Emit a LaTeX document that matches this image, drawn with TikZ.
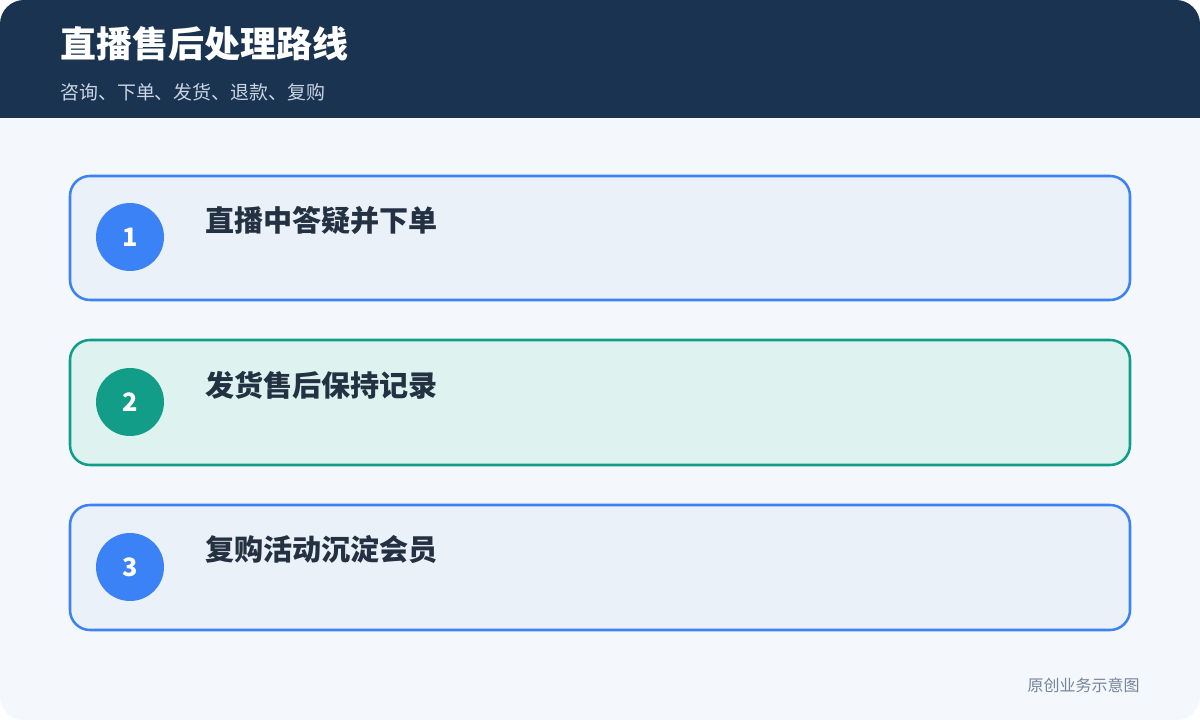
\documentclass[tikz,border=0pt]{standalone}
\usepackage{fontspec}
\setmainfont{Noto Sans CJK SC}
\newfontfamily\cjk{Noto Sans CJK SC}
\definecolor{navy}{HTML}{1A3350}
\definecolor{pagebg}{HTML}{F4F8FC}
\definecolor{blueln}{HTML}{3B82F6}
\definecolor{bluefill}{HTML}{EAF1F8}
\definecolor{tealln}{HTML}{129D88}
\definecolor{tealfill}{HTML}{DEF3EF}
\definecolor{subtxt}{HTML}{C9D5E4}
\definecolor{darktxt}{HTML}{243142}
\definecolor{foottxt}{HTML}{75849A}
\begin{document}
\begin{tikzpicture}[x=0.75pt,y=-0.75pt,
  card/.style={draw, line width=1.9pt, rounded corners=15pt},
  badge/.style={circle, minimum size=51pt, inner sep=0pt, text=white, font=\cjk\bfseries\fontsize{19pt}{22pt}\selectfont},
  cardtitle/.style={anchor=west, inner sep=0pt, text=darktxt, font=\cjk\bfseries\fontsize{21.8pt}{25pt}\selectfont}]
\useasboundingbox (0,0) rectangle (1200,720);
\fill[white] (0,0) rectangle (1200,720);
\fill[pagebg, rounded corners=18pt] (0,0) rectangle (1200,720);
\begin{scope}
\clip[rounded corners=18pt] (0,0) rectangle (1200,720);
\fill[navy] (0,0) rectangle (1200,118);
\end{scope}
\node[anchor=west, inner sep=0pt, text=white, font=\cjk\bfseries\fontsize{27pt}{31pt}\selectfont] (title) at (60,44) {直播售后处理路线};
\node[anchor=west, inner sep=0pt, text=subtxt, font=\cjk\fontsize{14.2pt}{17pt}\selectfont] (sub) at (60,92) {咨询、下单、发货、退款、复购};

\draw[card, blueln, fill=bluefill] (70,176) rectangle (1130,300);
\node[badge, fill=blueln] (b1) at (130,237) {1};
\node[cardtitle] (t1) at (205,220) {直播中答疑并下单};

\draw[card, tealln, fill=tealfill] (70,340) rectangle (1130,465);
\node[badge, fill=tealln] (b2) at (130,402) {2};
\node[cardtitle] (t2) at (205,385) {发货售后保持记录};

\draw[card, blueln, fill=bluefill] (70,505) rectangle (1130,630);
\node[badge, fill=blueln] (b3) at (130,567) {3};
\node[cardtitle] (t3) at (205,550) {复购活动沉淀会员};

\node[anchor=east, inner sep=0pt, text=foottxt, font=\cjk\fontsize{12pt}{14pt}\selectfont] (foot) at (1140,685) {原创业务示意图};
\end{tikzpicture}
\end{document}
